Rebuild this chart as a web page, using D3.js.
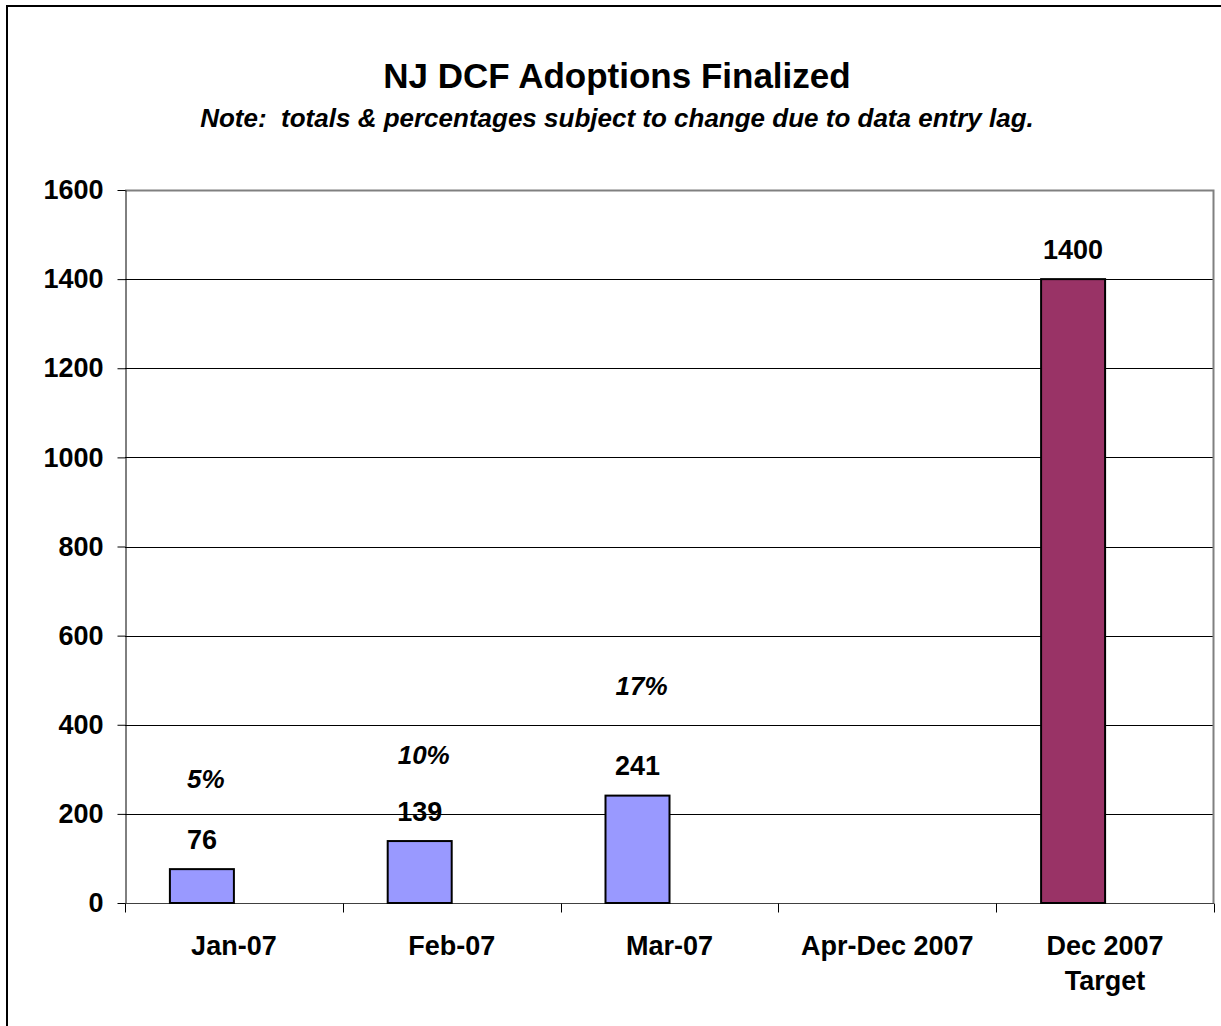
<!DOCTYPE html>
<html>
<head>
<meta charset="utf-8">
<script src="https://cdn.jsdelivr.net/npm/d3@7"></script>
<style>
  body { margin: 0; background: #fff; }
  text { font-family: "Liberation Sans", Arial, sans-serif; }
</style>
</head>
<body>
<div id="chart"></div>
<script>
// chart data
var categories = ["Jan-07", "Feb-07", "Mar-07", "Apr-Dec 2007", "Dec 2007\nTarget"];
var adoptions = [76, 139, 241, null, 1400];
var barColors = ["#9999FF", "#9999FF", "#9999FF", "#9999FF", "#993366"];
var pctLabels = ["5%", "10%", "17%"];
var pctAnchor = [280, 332, 487];   // where each % label sits, in chart units
var yTicks = [0, 200, 400, 600, 800, 1000, 1200, 1400, 1600];

var W = 1221, H = 1026;
var margin = {top: 190, right: 7, bottom: 123, left: 125};
var width = W - margin.left - margin.right;
var height = H - margin.top - margin.bottom;

var svg = d3.select("#chart").append("svg")
    .attr("width", W)
    .attr("height", H);

// outer frame (runs off the right / bottom edge like the original)
svg.append("rect")
    .attr("x", 7).attr("y", 6)
    .attr("width", W + 20).attr("height", H + 20)
    .attr("fill", "none")
    .attr("stroke", "#000")
    .attr("stroke-width", 2);

svg.append("text")
    .attr("x", 617).attr("y", 88)
    .attr("text-anchor", "middle")
    .style("font-size", "35px")
    .style("font-weight", "bold")
    .text("NJ DCF Adoptions Finalized");

svg.append("text")
    .attr("x", 617).attr("y", 127)
    .attr("text-anchor", "middle")
    .style("font-size", "26px")
    .style("font-weight", "bold")
    .style("font-style", "italic")
    .style("white-space", "pre")
    .text("Note:  totals & percentages subject to change due to data entry lag.");

var g = svg.append("g")
    .attr("transform", "translate(" + margin.left + "," + margin.top + ")");

var x = d3.scaleBand().domain(categories).range([0, width]);
var y = d3.scaleLinear().domain([0, 1600]).range([height, 0]);
var barW = 64;

// gridlines
g.selectAll(".grid")
    .data(yTicks.filter(function(d) { return d > 0 && d < 1600; }))
    .enter().append("line")
    .attr("x1", 0).attr("x2", width)
    .attr("y1", function(d) { return Math.round(y(d)) + 0.5; })
    .attr("y2", function(d) { return Math.round(y(d)) + 0.5; })
    .attr("stroke", "#000");

// plot area border (top + right)
g.append("path")
    .attr("d", "M0,0.5H" + (width - 0.5) + "V" + height)
    .attr("fill", "none")
    .attr("stroke", "#808080")
    .attr("stroke-width", 2);

// y axis
var yAxis = g.append("g")
    .attr("transform", "translate(0.5,0)")
    .call(d3.axisLeft(y).tickValues(yTicks).tickFormat(d3.format("d"))
        .tickSize(8).tickPadding(14).tickSizeOuter(0));
yAxis.selectAll("text")
    .style("font-size", "27px")
    .style("font-weight", "bold")
    .attr("fill", "#000");
yAxis.selectAll("line").attr("stroke", "#000");
yAxis.select(".domain").attr("stroke", "#000");

// x axis: boundaries between categories carry the ticks
var xAxis = g.append("g").attr("transform", "translate(0," + (height + 0.5) + ")");
xAxis.append("line")
    .attr("x1", 0).attr("x2", width)
    .attr("stroke", "#404040");
xAxis.selectAll(".tk")
    .data(d3.range(categories.length + 1))
    .enter().append("line")
    .attr("x1", function(i) { return Math.round(i * x.bandwidth()) + 0.5; })
    .attr("x2", function(i) { return Math.round(i * x.bandwidth()) + 0.5; })
    .attr("y1", 0).attr("y2", 9)
    .attr("stroke", "#000");

xAxis.selectAll(".lbl")
    .data(categories)
    .enter().append("text")
    .attr("text-anchor", "middle")
    .attr("x", function(d) { return x(d) + x.bandwidth() / 2; })
    .attr("y", 51)
    .style("font-size", "27px")
    .style("font-weight", "bold")
    .each(function(d) {
        var t = d3.select(this);
        d.split("\n").forEach(function(line, i) {
            t.append("tspan")
                .attr("x", x(d) + x.bandwidth() / 2)
                .attr("dy", i === 0 ? 0 : 35)
                .text(line);
        });
    });

// bars: sit in the left half of each category (clustered, second slot empty)
var barData = categories.map(function(c, i) {
    return {cat: c, value: adoptions[i], color: barColors[i]};
}).filter(function(d) { return d.value != null; });

g.selectAll(".bar")
    .data(barData)
    .enter().append("rect")
    .attr("class", "bar")
    .attr("x", function(d) { return x(d.cat) + x.bandwidth() / 2 - barW; })
    .attr("y", function(d) { return y(d.value); })
    .attr("width", barW)
    .attr("height", function(d) { return height - y(d.value); })
    .attr("fill", function(d) { return d.color; })
    .attr("stroke", "#000")
    .attr("stroke-width", 2);

// value labels
g.selectAll(".val")
    .data(barData)
    .enter().append("text")
    .attr("text-anchor", "middle")
    .attr("x", function(d) { return x(d.cat) + x.bandwidth() / 2 - barW / 2; })
    .attr("y", function(d) { return y(d.value) - 30; })
    .attr("dy", "0.36em")
    .style("font-size", "27px")
    .style("font-weight", "bold")
    .text(function(d) { return d.value; });

// percentage labels
g.selectAll(".pct")
    .data(pctLabels)
    .enter().append("text")
    .attr("text-anchor", "middle")
    .attr("x", function(d, i) { return x(categories[i]) + x.bandwidth() / 2 - barW / 2 + 4; })
    .attr("y", function(d, i) { return y(pctAnchor[i]); })
    .attr("dy", "0.36em")
    .style("font-size", "26px")
    .style("font-weight", "bold")
    .style("font-style", "italic")
    .text(function(d) { return d; });
</script>
</body>
</html>
